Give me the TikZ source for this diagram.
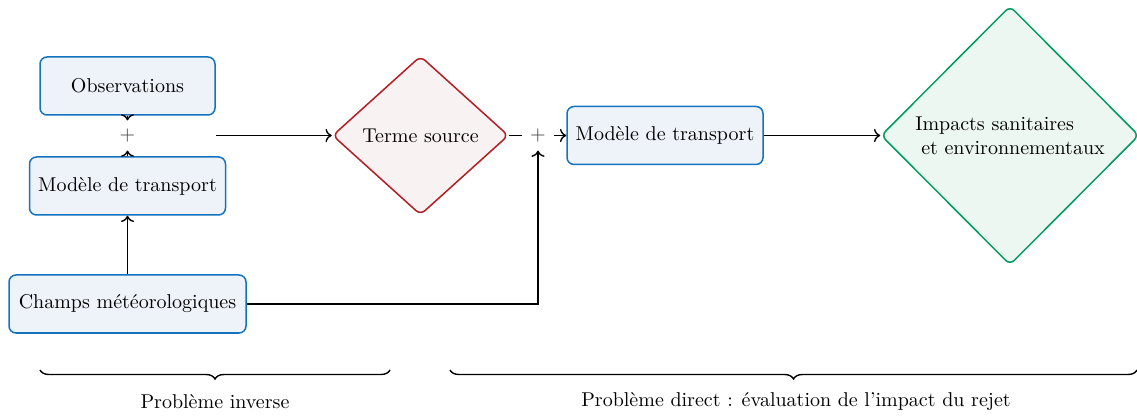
\documentclass[tikz,border=0pt]{standalone}
\usetikzlibrary{shapes.geometric,decorations.pathreplacing,arrows.meta}
\definecolor{bluedraw}{RGB}{20,115,190}
\definecolor{bluefill}{RGB}{238,243,250}
\definecolor{reddraw}{RGB}{180,30,35}
\definecolor{redfill}{RGB}{248,242,242}
\definecolor{greendraw}{RGB}{0,155,95}
\definecolor{greenfill}{RGB}{237,247,241}
\tikzset{
  boxnode/.style={draw=bluedraw, fill=bluefill, line width=0.75pt, rounded corners=3.5pt, inner sep=0pt},
  reddiam/.style={diamond, draw=reddraw, fill=redfill, line width=0.75pt, rounded corners=3pt, inner sep=0pt, minimum width=88pt, minimum height=79.5pt},
  greendiam/.style={diamond, draw=greendraw, fill=greenfill, line width=0.75pt, rounded corners=3pt, inner sep=0pt, minimum width=129pt, minimum height=129.5pt},
  conn/.style={line width=0.7pt},
  plusnode/.style={inner sep=4pt, text=black!75},
  bracedeco/.style={decorate, decoration={brace, mirror, amplitude=4.5pt}, line width=0.7pt},
}
\begin{document}
\begin{tikzpicture}[x=0.5pt,y=-0.5pt]
\useasboundingbox (0,0) rectangle (1137,417);
\node[boxnode, minimum width=87.5pt, minimum height=29pt] (obs) at (127.5,86) {Observations};
\node[plusnode] (plus1) at (127.5,135.5) {$+$};
\node[boxnode, minimum width=98pt, minimum height=29pt] (mod1) at (127.5,186) {Modèle de transport};
\node[boxnode, minimum width=118.5pt, minimum height=29pt] (champs) at (127.5,304) {Champs météorologiques};
\node[reddiam] (terme) at (420.5,135.5) {Terme source};
\node[plusnode] (plus2) at (538,135.5) {$+$};
\node[boxnode, minimum width=98pt, minimum height=29pt] (mod2) at (665,135.5) {Modèle de transport};
\node[greendiam, align=left] (impacts) at (1010,135.5) {Impacts sanitaires\\\hspace{3pt}et environnementaux};

\draw[conn,->] (obs.south) -- (plus1.north);
\draw[conn,->] (mod1.north) -- (plus1.south);
\draw[conn,->] (champs.north) -- (mod1.south);
\draw[conn,->] (obs.east |- plus1) -- (terme.west);
\draw[conn] (terme.east) -- (plus2.west);
\draw[conn,->] (plus2.east) -- (mod2.west);
\draw[conn,->] (champs.east) -| (plus2.south);
\draw[conn,->] (mod2.east) -- (impacts.west);

\coordinate (b1s) at (40,370);
\coordinate (b1e) at (390,370);
\coordinate (b2s) at (450,370);
\coordinate (b2e) at (1137,370);
\draw[bracedeco] (b1s) -- (b1e);
\draw[bracedeco] (b2s) -- (b2e);
\node (lab1) at (215,402) {Problème inverse};
\node (lab2) at (796,402) {Problème direct : évaluation de l'impact du rejet};
\end{tikzpicture}
\end{document}
